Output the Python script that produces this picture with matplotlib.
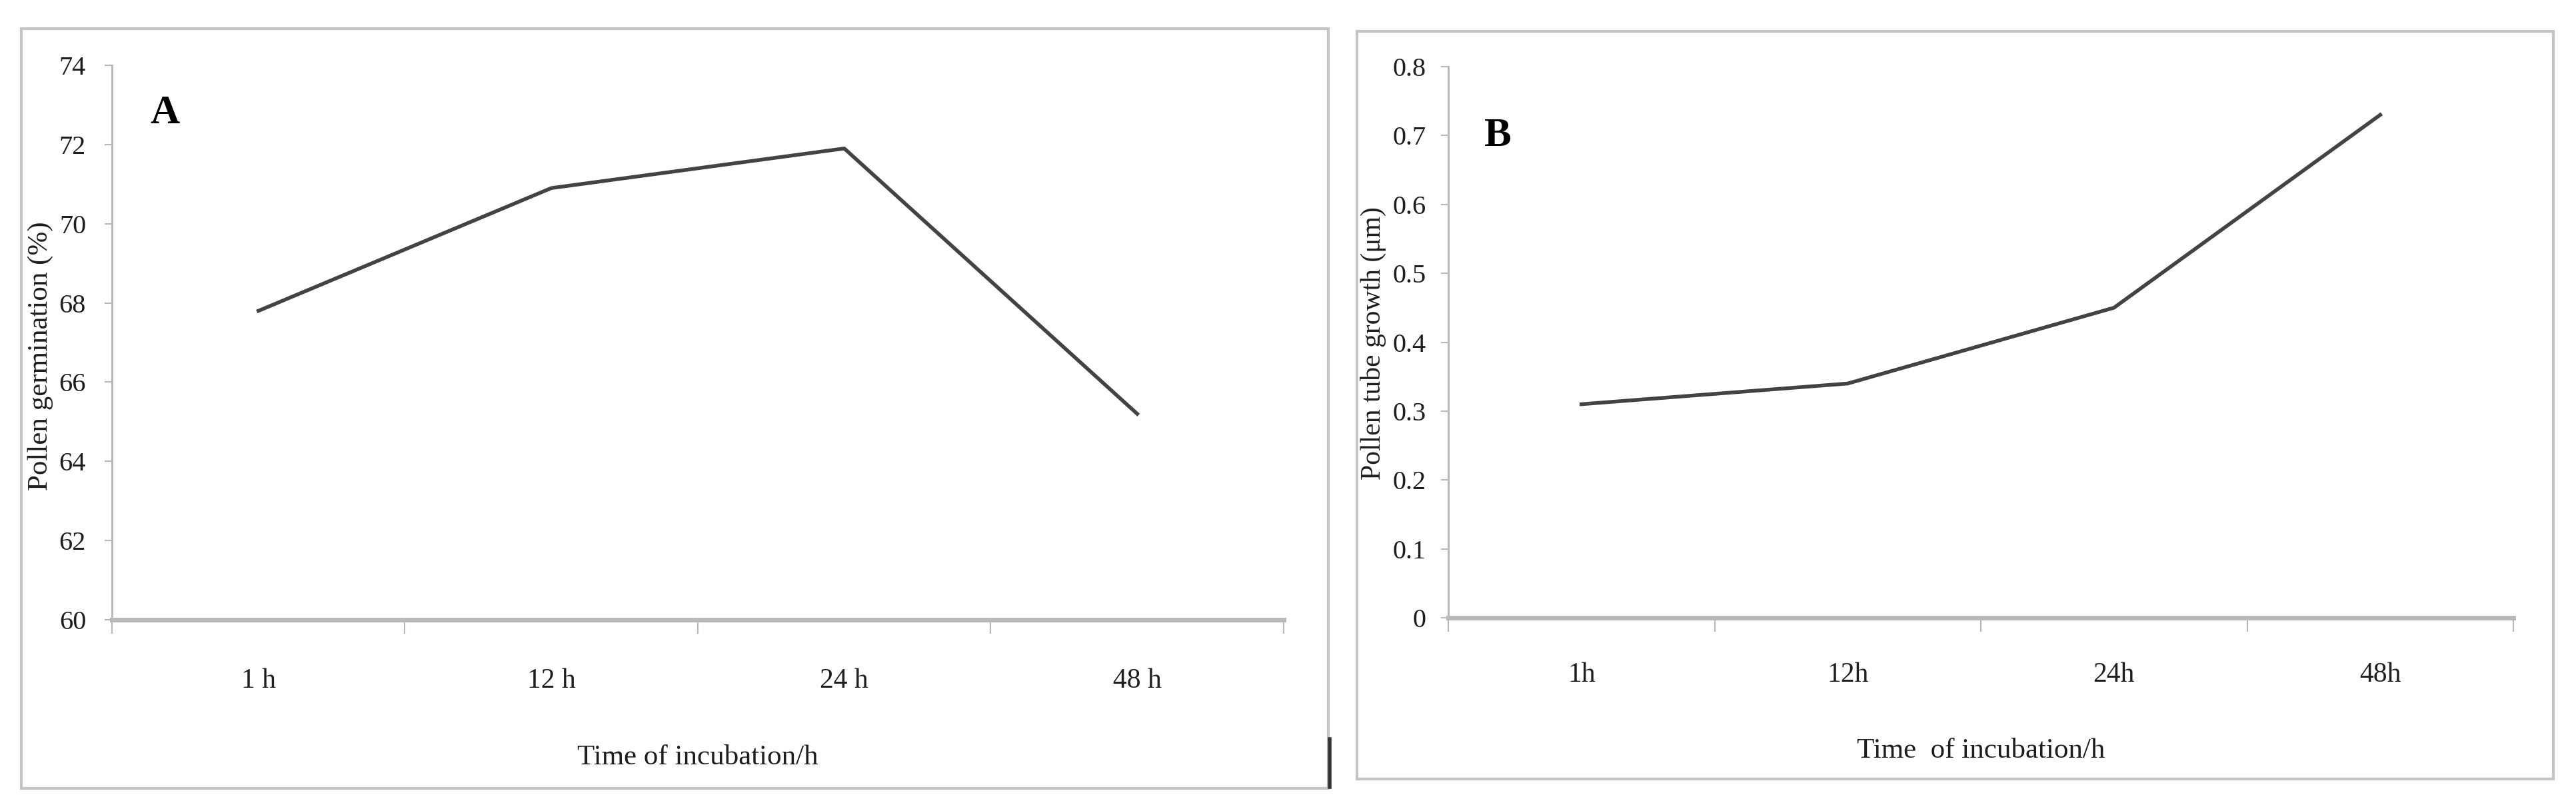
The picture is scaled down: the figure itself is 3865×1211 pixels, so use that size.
import matplotlib
matplotlib.use("Agg")
import matplotlib.pyplot as plt
from matplotlib.patches import Rectangle
from matplotlib.lines import Line2D

# data
time_labels_a = ["1 h", "12 h", "24 h", "48 h"]
time_labels_b = ["1h", "12h", "24h", "48h"]
germination = [67.8, 70.9, 71.9, 65.2]  # %
tube_growth = [0.31, 0.34, 0.45, 0.73]  # um
germ_ticks = [60, 62, 64, 66, 68, 70, 72, 74]
growth_ticks = [0, 0.1, 0.2, 0.3, 0.4, 0.5, 0.6, 0.7, 0.8]

W, H = 3866, 1211
AXIS_GRAY = "#b8b8b8"
BOX_GRAY = "#c4c4c4"
TEXT = "#1e1e1e"
LINE = "#434343"

plt.rcParams["font.family"] = ["Liberation Serif", "DejaVu Serif"]


def px_box(x0, y0, x1, y1):
    """pixel box (top-left origin) -> figure fraction rect"""
    return [x0 / W, 1 - y1 / H, (x1 - x0) / W, (y1 - y0) / H]


def style_axes(ax, labels, ypad, xpad):
    n = len(labels)
    ax.set_xlim(-0.5, n - 0.5)
    # category boundaries carry the tick marks, centres carry the labels
    ax.set_xticks([i - 0.5 for i in range(n + 1)])
    ax.set_xticklabels([])
    ax.set_xticks(range(n), minor=True)
    ax.set_xticklabels(labels, minor=True)
    ax.tick_params(axis="x", which="major", direction="out", length=15,
                   width=1.5, color=AXIS_GRAY)
    ax.tick_params(axis="x", which="minor", length=0, pad=xpad,
                   labelsize=30, labelcolor=TEXT)
    ax.tick_params(axis="y", direction="out", length=8, width=1.5,
                   color=AXIS_GRAY, pad=ypad, labelsize=29, labelcolor=TEXT)
    for side in ("top", "right"):
        ax.spines[side].set_visible(False)
    ax.spines["left"].set_color(AXIS_GRAY)
    ax.spines["left"].set_linewidth(2.2)
    ax.spines["bottom"].set_color(AXIS_GRAY)
    ax.spines["bottom"].set_linewidth(5)
    ax.set_facecolor("none")


fig = plt.figure(figsize=(W / 100, H / 100), dpi=100)

# outer frames of the two panels
for x0, y0, x1, y1 in [(32, 43, 1993, 1183), (2036, 47, 3831, 1169)]:
    fig.patches.append(Rectangle((x0 / W, 1 - y1 / H), (x1 - x0) / W, (y1 - y0) / H,
                                 transform=fig.transFigure, fill=False,
                                 edgecolor=BOX_GRAY, linewidth=3))
fig.lines.append(Line2D([1995 / W, 1995 / W], [1 - 1109 / H, 1 - 1181 / H],
                        transform=fig.transFigure, color="#333333", linewidth=4))

# panel A
ax1 = fig.add_axes(px_box(168, 98, 1926, 930))
ax1.plot(range(len(germination)), germination, color=LINE, linewidth=4)
ax1.set_ylim(60, 74)
ax1.set_yticks(germ_ticks)
style_axes(ax1, time_labels_a, ypad=20, xpad=52)
ax1.set_ylabel("Pollen germination (%)", fontsize=31, color=TEXT, va="center")
ax1.yaxis.set_label_coords(-0.061, 0.476)
ax1.set_xlabel("Time of incubation/h", fontsize=31, color=TEXT, va="center")
ax1.xaxis.set_label_coords(0.5, -0.249)
ax1.text(0.0455, 0.913, "A", transform=ax1.transAxes, fontsize=44,
         fontweight="bold", ha="center", va="center", color="#000000")

# panel B
ax2 = fig.add_axes(px_box(2173, 100, 3771, 927))
ax2.plot(range(len(tube_growth)), tube_growth, color=LINE, linewidth=4)
ax2.set_ylim(0, 0.8)
ax2.set_yticks(growth_ticks)
ax2.set_yticklabels([f"{t:g}" for t in growth_ticks])
style_axes(ax2, time_labels_b, ypad=16, xpad=48)
ax2.set_ylabel("Pollen tube growth (\u03bcm)", fontsize=30, color=TEXT, va="center")
ax2.yaxis.set_label_coords(-0.0705, 0.498)
ax2.set_xlabel("Time  of incubation/h", fontsize=31, color=TEXT, va="center")
ax2.xaxis.set_label_coords(0.5, -0.242)
ax2.text(0.0463, 0.874, "B", transform=ax2.transAxes, fontsize=44,
         fontweight="bold", ha="center", va="center", color="#000000")

fig.savefig("out.png", dpi=100, facecolor="white")
